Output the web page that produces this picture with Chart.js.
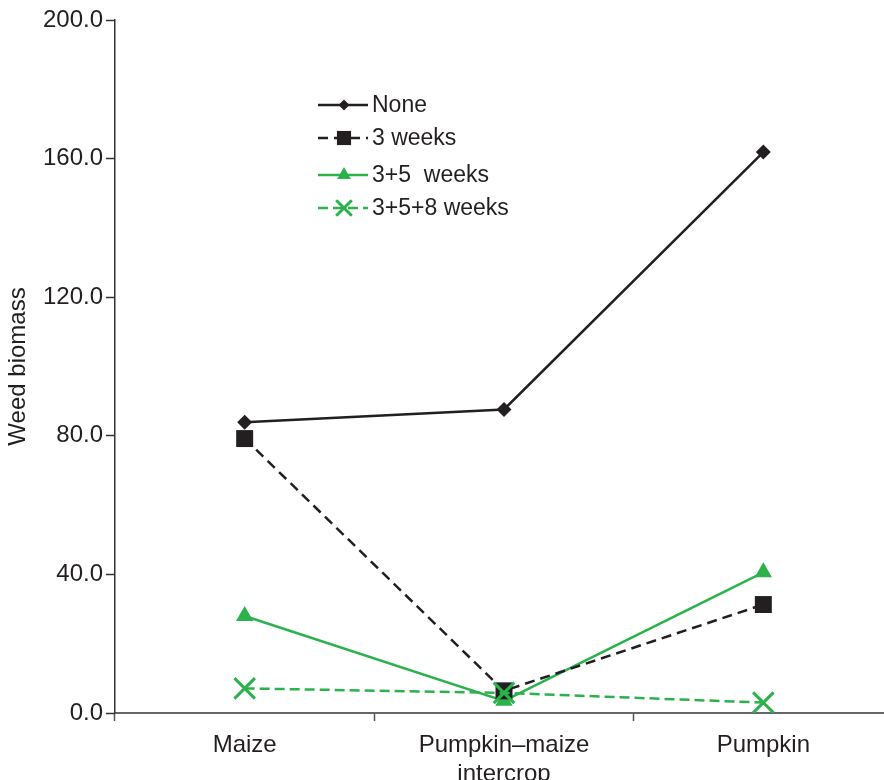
<!DOCTYPE html>
<html>
<head>
<meta charset="utf-8">
<script src="https://cdn.jsdelivr.net/npm/chart.js@4/dist/chart.umd.min.js"></script>
<style>
  html, body { margin: 0; padding: 0; background: #fff; overflow: hidden; }
  #wrap { width: 884px; height: 780px; overflow: hidden; }
  canvas { display: block; }
</style>
</head>
<body>
<div id="wrap"><canvas id="c" width="893" height="780"></canvas></div>
<script>
// Crop systems on the x axis
const categories = [["Maize"], ["Pumpkin\u2013maize", "intercrop"], ["Pumpkin"]];
// Weed biomass for each weeding regime
const seriesNames = ["None", "3 weeks", "3+5  weeks", "3+5+8 weeks"];
const noneValues = [83.9, 87.6, 161.9];
const threeWeeksValues = [79.2, 6.4, 31.3];
const threeFiveValues = [28.0, 3.5, 40.6];
const threeFiveEightValues = [7.1, 5.8, 3.0];
// Y axis range and tick step
const yMin = 0, yMax = 200, yStep = 40;

const BLACK = '#231f20';
const GREEN = '#2bb24c';
const FONT = '"Liberation Sans", Arial, Helvetica, sans-serif';

const datasets = [
  { label: seriesNames[0], data: noneValues, borderColor: BLACK, backgroundColor: BLACK,
    borderWidth: 2.5, pointStyle: 'rectRot', pointRadius: 7.5, pointBorderWidth: 0,
    order: 0, legendRadius: 5.5 },
  { label: seriesNames[1], data: threeWeeksValues, borderColor: BLACK, backgroundColor: BLACK,
    borderWidth: 2.5, borderDash: [10, 6], pointStyle: 'rect', pointRadius: 12, pointBorderWidth: 0,
    order: 2, legendRadius: 10 },
  { label: seriesNames[2], data: threeFiveValues, borderColor: GREEN, backgroundColor: GREEN,
    borderWidth: 2.5, pointStyle: 'triangle', pointRadius: 10, pointBorderWidth: 0,
    order: 3, legendRadius: 8 },
  { label: seriesNames[3], data: threeFiveEightValues, borderColor: GREEN, backgroundColor: GREEN,
    borderWidth: 2.5, borderDash: [10, 5], pointStyle: 'crossRot', pointRadius: 14.5, pointBorderWidth: 3,
    pointBorderColor: GREEN, order: 1, legendRadius: 11 }
];

// Legend drawn inside the plot area, using each dataset's own line and marker style
const insetLegend = {
  id: 'insetLegend',
  afterDraw(chart) {
    const ctx = chart.ctx;
    const x0 = 318, x1 = 368, textX = 372;
    const rows = [105, 138, 175, 208];
    chart.data.datasets.forEach((ds, i) => {
      const y = rows[i];
      ctx.save();
      ctx.strokeStyle = ds.borderColor;
      ctx.lineWidth = ds.borderWidth;
      ctx.setLineDash(ds.borderDash || []);
      ctx.beginPath();
      ctx.moveTo(x0, y);
      ctx.lineTo(x1, y);
      ctx.stroke();
      ctx.setLineDash([]);
      ctx.fillStyle = ds.backgroundColor;
      ctx.strokeStyle = ds.pointBorderColor || ds.borderColor;
      ctx.lineWidth = ds.pointBorderWidth || 0;
      Chart.helpers.drawPoint(ctx, {
        pointStyle: ds.pointStyle, radius: ds.legendRadius, rotation: 0,
        borderWidth: ds.pointBorderWidth || 0
      }, (x0 + x1) / 2 + 1, y);
      ctx.fillStyle = BLACK;
      ctx.font = '23px ' + FONT;
      ctx.textBaseline = 'middle';
      ctx.textAlign = 'left';
      ctx.fillText(ds.label, textX, y + 1);
      ctx.restore();
    });
  }
};

new Chart(document.getElementById('c'), {
  type: 'line',
  data: { labels: categories, datasets },
  options: {
    responsive: false,
    animation: false,
    devicePixelRatio: 1,
    layout: { autoPadding: false, padding: { top: 20, right: 0, left: 0, bottom: 0 } },
    plugins: { legend: { display: false }, tooltip: { enabled: false } },
    elements: { line: { tension: 0 } },
    scales: {
      x: {
        offset: true,
        grid: { display: true, offset: true, drawOnChartArea: false, tickLength: 8, color: '#555', tickWidth: 1.5 },
        border: { display: true, color: '#666', width: 2 },
        ticks: { color: BLACK, font: { family: FONT, size: 24, lineHeight: 1.2 }, padding: 10, maxRotation: 0, autoSkip: false },
        afterFit(scale) { scale.height = 67; }
      },
      y: {
        min: yMin, max: yMax,
        grid: { display: true, drawOnChartArea: false, tickLength: 9, color: '#333', tickWidth: 1.5 },
        border: { display: true, color: '#333', width: 1.5 },
        ticks: {
          stepSize: yStep, color: BLACK, padding: 3,
          font: { family: FONT, size: 24 },
          callback: v => Number(v).toFixed(1)
        },
        title: { display: true, text: 'Weed biomass', color: BLACK, font: { family: FONT, size: 24 }, padding: { top: 4, bottom: 0 } },
        afterFit(scale) { scale.width = 115; }
      }
    }
  },
  plugins: [insetLegend]
});
</script>
</body>
</html>
